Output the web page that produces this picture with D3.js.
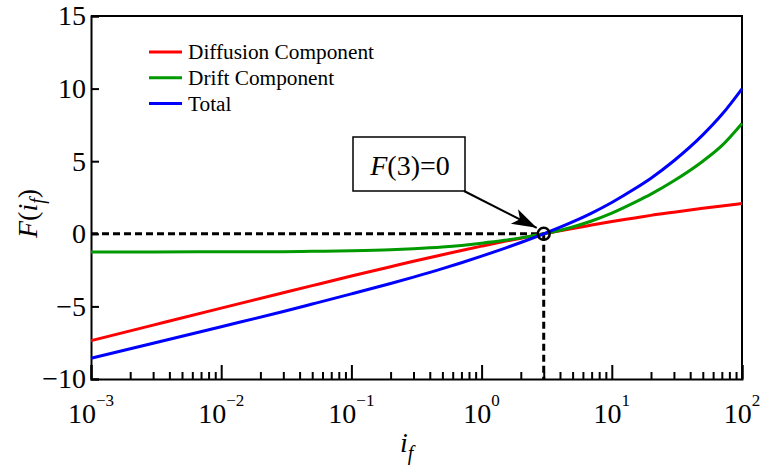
<!DOCTYPE html>
<html lang="en">
<head>
  <meta charset="UTF-8">
  <script src="https://cdn.jsdelivr.net/npm/d3@7"></script>
  <style>
    body { margin: 0; background: #fff; }
    .axis path, .axis line { stroke: #000; stroke-width: 2; }
  </style>
</head>
<body>
<svg></svg>
<script>
// inversion coefficient samples
var ifVals    = [0.001, 0.003, 0.01, 0.03, 0.05, 0.1, 0.2, 0.3, 0.5, 0.7, 1, 1.5, 2, 3, 5, 7, 10, 15, 20, 30, 50, 70, 100];
var diffusion = [-7.36, -6.29, -5.12, -4.06, -3.57, -2.91, -2.27, -1.89, -1.44, -1.15, -0.85, -0.52, -0.30, 0, 0.37, 0.60, 0.84, 1.09, 1.27, 1.49, 1.76, 1.92, 2.08];
var drift     = [-1.25, -1.25, -1.24, -1.23, -1.21, -1.17, -1.10, -1.03, -0.91, -0.80, -0.65, -0.45, -0.28, 0, 0.47, 0.88, 1.42, 2.16, 2.73, 3.65, 5.00, 6.07, 7.60];
var total     = [-8.57, -7.54, -6.40, -5.35, -4.84, -4.14, -3.42, -2.98, -2.40, -1.99, -1.54, -1.00, -0.60, 0, 0.82, 1.43, 2.16, 3.10, 3.83, 5.03, 6.81, 8.21, 9.99];

var seriesNames  = ["Diffusion Component", "Drift Component", "Total"];
var seriesColors = ["#ff0000", "#009900", "#0000ff"];

var xTicks = [1e-3, 1e-2, 1e-1, 1e0, 1e1, 1e2];
var xExps  = ["\u22123", "\u22122", "\u22121", "0", "1", "2"];
var yTicks = [-10, -5, 0, 5, 10, 15];

var zeroAt = 3;

var FONT = "'Liberation Serif', 'Times New Roman', serif";
var W = 766, H = 475;
var margin = {top: 16, right: 24, bottom: 96, left: 91};

var svg = d3.select("svg").attr("width", W).attr("height", H)
  .attr("font-family", FONT);

var x = d3.scaleLog().domain([1e-3, 1e2]).range([margin.left, W - margin.right]);
var y = d3.scaleLinear().domain([-10, 15]).range([H - margin.bottom, margin.top]);

// minor ticks 2..9 per decade
var minor = [];
xTicks.slice(0, -1).forEach(function(d) {
  for (var k = 2; k < 10; k++) minor.push(d * k);
});

// frame (top and right)
svg.append("path")
  .attr("d", "M" + x(1e-3) + "," + y(15) + "H" + x(1e2) + "V" + y(-10))
  .attr("fill", "none").attr("stroke", "#000").attr("stroke-width", 2);

// x axis: major + minor inward ticks
svg.append("g").attr("class", "axis")
  .attr("transform", "translate(0," + y(-10) + ")")
  .call(d3.axisBottom(x).tickValues(xTicks).tickSize(-14).tickFormat(""));
svg.append("g").attr("class", "axis")
  .attr("transform", "translate(0," + y(-10) + ")")
  .call(d3.axisBottom(x).tickValues(minor).tickSize(-7).tickFormat(""))
  .select(".domain").remove();

var xl = svg.append("g").selectAll("text").data(xTicks).enter().append("text")
  .attr("x", function(d) { return x(d); })
  .attr("y", y(-10) + 44)
  .attr("text-anchor", "middle")
  .style("font-family", FONT)
  .attr("font-size", 28);
xl.append("tspan").text("10");
xl.append("tspan").attr("dy", -17).attr("font-size", 17)
  .text(function(d, i) { return xExps[i]; });

// y axis
var gy = svg.append("g").attr("class", "axis")
  .attr("transform", "translate(" + x(1e-3) + ",0)")
  .call(d3.axisLeft(y).tickValues(yTicks).tickSize(-8).tickPadding(5));
gy.attr("font-size", 28);
gy.selectAll("text").attr("fill", "#000").style("font-family", FONT);

// axis labels
var xlab = svg.append("text")
  .attr("x", 400).attr("y", 452)
  .style("font-family", FONT)
  .attr("font-size", 28).attr("font-style", "italic");
xlab.append("tspan").text("i");
xlab.append("tspan").attr("dy", 8).attr("font-size", 20).text("f");

var ylab = svg.append("text")
  .attr("transform", "translate(37,238) rotate(-90)")
  .style("font-family", FONT)
  .attr("font-size", 28);
ylab.append("tspan").attr("font-style", "italic").text("F");
ylab.append("tspan").text("(");
ylab.append("tspan").attr("font-style", "italic").text("i");
ylab.append("tspan").attr("font-style", "italic").attr("dy", 7).attr("font-size", 20).text("f");
ylab.append("tspan").attr("dy", -7).text(")");

// reference dashed lines at F(3)=0
svg.append("line")
  .attr("x1", x(1e-3)).attr("x2", x(zeroAt)).attr("y1", y(0)).attr("y2", y(0))
  .attr("stroke", "#000").attr("stroke-width", 3).attr("stroke-dasharray", "7,4");
svg.append("line")
  .attr("x1", x(zeroAt)).attr("x2", x(zeroAt)).attr("y1", y(0)).attr("y2", y(-10))
  .attr("stroke", "#000").attr("stroke-width", 3).attr("stroke-dasharray", "7,4");

// curves
var line = d3.line()
  .x(function(d) { return x(d[0]); })
  .y(function(d) { return y(d[1]); })
  .curve(d3.curveMonotoneX);

[diffusion, drift, total].forEach(function(vals, i) {
  svg.append("path")
    .datum(ifVals.map(function(v, j) { return [v, vals[j]]; }))
    .attr("d", line)
    .attr("fill", "none")
    .attr("stroke", seriesColors[i])
    .attr("stroke-width", 3);
});

// marker circle
svg.append("circle")
  .attr("cx", x(zeroAt)).attr("cy", y(0)).attr("r", 6)
  .attr("fill", "none").attr("stroke", "#000").attr("stroke-width", 2.5);

// annotation box + arrow
svg.append("rect")
  .attr("x", 353).attr("y", 137).attr("width", 112).attr("height", 54)
  .attr("fill", "#fff").attr("stroke", "#000").attr("stroke-width", 1.5);
var ann = svg.append("text").attr("x", 410).attr("y", 175)
  .attr("text-anchor", "middle").style("font-family", FONT).attr("font-size", 28);
ann.append("tspan").attr("font-style", "italic").text("F");
ann.append("tspan").text("(3)=0");

svg.append("defs").append("marker")
  .attr("id", "head").attr("viewBox", "0 0 10 10")
  .attr("refX", 10).attr("refY", 5)
  .attr("markerWidth", 25).attr("markerHeight", 25)
  .attr("markerUnits", "userSpaceOnUse")
  .attr("orient", "auto")
  .append("path").attr("d", "M0,1.8 L10,5 L0,8.2 L2.5,5 Z").attr("fill", "#000");

svg.append("line")
  .attr("x1", 464).attr("y1", 191)
  .attr("x2", x(zeroAt) - 7).attr("y2", y(0) - 6)
  .attr("stroke", "#000").attr("stroke-width", 2)
  .attr("marker-end", "url(#head)");

// legend
var leg = svg.append("g").selectAll("g").data(seriesNames).enter().append("g")
  .attr("transform", function(d, i) { return "translate(149," + (52 + i * 25.8) + ")"; });
leg.append("line").attr("x1", 0).attr("x2", 33)
  .attr("stroke", function(d, i) { return seriesColors[i]; })
  .attr("stroke-width", 3);
leg.append("text").attr("x", 39).attr("y", 7)
  .style("font-family", FONT)
  .attr("font-size", 21.3).text(function(d) { return d; });
</script>
</body>
</html>
